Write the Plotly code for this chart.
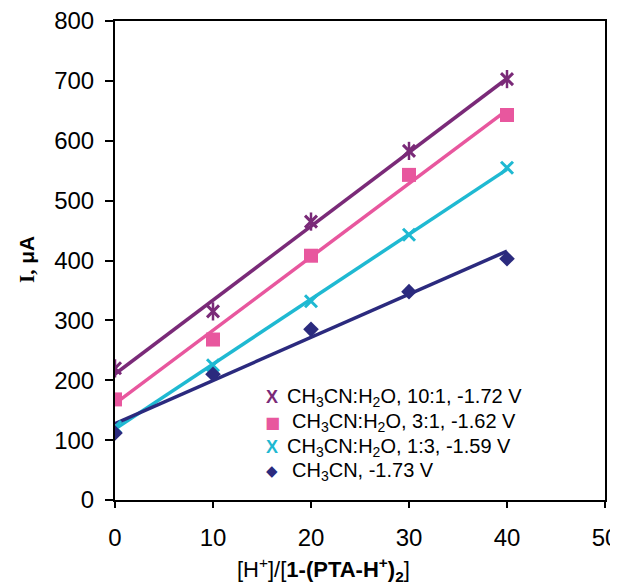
import numpy as np
import plotly.graph_objects as go

x_vals = [0, 10, 20, 30, 40]
s_101 = [220, 315, 465, 583, 703]
s_31 = [168, 268, 408, 543, 643]
s_13 = [122, 225, 332, 443, 555]
s_cn = [112, 210, 285, 348, 403]

names = [
    "CH<sub>3</sub>CN:H<sub>2</sub>O, 10:1, -1.72 V",
    "CH<sub>3</sub>CN:H<sub>2</sub>O, 3:1, -1.62 V",
    "CH<sub>3</sub>CN:H<sub>2</sub>O, 1:3, -1.59 V",
    "CH<sub>3</sub>CN, -1.73 V",
]
colors = ["#7a2a78", "#e8579e", "#1fb9d2", "#2b2a7e"]
symbols = ["x-thin-open", "square", "x-thin-open", "diamond"]
sizes = [12, 14, 12, 12]
series = [s_101, s_31, s_13, s_cn]

# page has an 8px body margin; figure is sized so the plot sits where the reference's does
W, H = 610, 576
ML, MR, MT, MB = 107, 13, 13, 84
PW, PH = W - ML - MR, H - MT - MB


def px(xp):  # page x pixel -> paper
    return (xp - 8 - ML) / PW


def py(yp):  # page y pixel -> paper
    return (H - MB - (yp - 8)) / PH


fig = go.Figure()
xs = np.array(x_vals, dtype=float)
for ys, c in zip(series, colors):
    m, b = np.polyfit(xs, np.array(ys, dtype=float), 1)
    fx = np.array([0, 40])
    fig.add_trace(go.Scatter(x=fx, y=m * fx + b, mode="lines",
                             line=dict(color=c, width=3.5), showlegend=False,
                             hoverinfo="skip"))
fig.add_trace(go.Scatter(x=x_vals, y=s_101, mode="markers", showlegend=False,
                         marker=dict(symbol="line-ns-open", size=13, color=colors[0],
                                     line=dict(color=colors[0], width=2.5))))
for ys, c, s, sz, n in zip(series, colors, symbols, sizes, names):
    if "open" in s:
        mk = dict(symbol=s, size=sz, color=c, line=dict(color=c, width=3))
    else:
        mk = dict(symbol=s, size=sz, color=c, line=dict(width=0))
    fig.add_trace(go.Scatter(x=x_vals, y=ys, mode="markers", name=n, marker=mk,
                             showlegend=False))

# legend drawn as text rows
key_glyphs = ["<b>X</b>", "■", "<b>X</b>", "◆"]
key_fonts = [dict(size=18, family="Liberation Sans, Arial, sans-serif"),
             dict(size=16, family="DejaVu Sans, sans-serif"),
             dict(size=18, family="Liberation Sans, Arial, sans-serif"),
             dict(size=15, family="DejaVu Sans, sans-serif")]
row_y = [397, 422, 447, 471]
text_x = [285, 290, 285, 290]
anns = []
for i in range(4):
    f = dict(key_fonts[i]); f["color"] = colors[i]
    anns.append(dict(text=key_glyphs[i], x=px(272), y=py(row_y[i]), xref="paper", yref="paper",
                     showarrow=False, xanchor="center", yanchor="middle", font=f))
    anns.append(dict(text=names[i], x=px(text_x[i]), y=py(row_y[i]), xref="paper", yref="paper",
                     showarrow=False, xanchor="left", yanchor="middle",
                     font=dict(size=20, color="black")))
anns.append(dict(text="[H<sup>+</sup>]/[<b>1-(PTA-H<sup>+</sup>)<sub>2</sub></b>]",
                 x=px(323), y=py(569), xref="paper", yref="paper", showarrow=False,
                 font=dict(size=22), xanchor="center", yanchor="middle"))
anns.append(dict(text="<b><span style='font-family:Liberation Serif, Times New Roman, serif'>I,</span> μA</b>",
                 x=px(27), y=py(260), xref="paper", yref="paper", showarrow=False,
                 font=dict(size=21), textangle=-90, xanchor="center", yanchor="middle"))

fig.update_layout(
    width=W, height=H,
    margin=dict(l=ML, r=MR, t=MT, b=MB, autoexpand=False),
    plot_bgcolor="white", paper_bgcolor="white",
    font=dict(family="Liberation Sans, Arial, sans-serif", color="black"),
    showlegend=False,
    annotations=anns,
)
fig.update_xaxes(range=[0, 50], tickvals=[0, 10, 20, 30, 40, 50],
                 showgrid=False, zeroline=False, showline=True,
                 linecolor="black", linewidth=2, mirror=True,
                 ticks="outside", ticklen=6, tickwidth=2, tickcolor="black",
                 tickfont=dict(size=24), ticklabelstandoff=9, automargin=False,
                 ticklabeloverflow="allow")
fig.update_yaxes(range=[0, 800], tickvals=[0, 100, 200, 300, 400, 500, 600, 700, 800],
                 showgrid=False, zeroline=False, showline=True,
                 linecolor="black", linewidth=2, mirror=True,
                 ticks="outside", ticklen=8, tickwidth=2, tickcolor="black",
                 tickfont=dict(size=24), ticklabelstandoff=6, automargin=False,
                 ticklabeloverflow="allow")

fig.write_html("out.html")
